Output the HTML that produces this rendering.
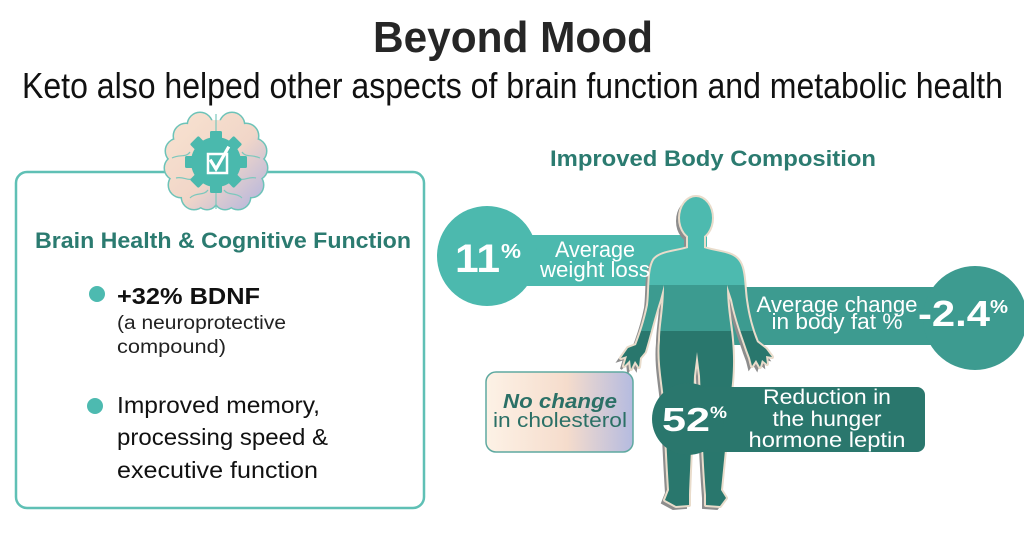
<!DOCTYPE html>
<html>
<head>
<meta charset="utf-8">
<style>
  html,body{margin:0;padding:0;background:#fff;}
  svg{display:block;}
  text{font-family:"Liberation Sans", sans-serif;}
</style>
</head>
<body>
<svg width="1024" height="554" viewBox="0 0 1024 554" xmlns="http://www.w3.org/2000/svg">
  <defs>
    <linearGradient id="brainGrad" x1="170" y1="115" x2="262" y2="208" gradientUnits="userSpaceOnUse">
      <stop offset="0" stop-color="#f8e2d0"/>
      <stop offset="0.55" stop-color="#f1d6c8"/>
      <stop offset="1" stop-color="#b3b5de"/>
    </linearGradient>
    <linearGradient id="cholGrad" x1="0" y1="0" x2="1" y2="0">
      <stop offset="0" stop-color="#fdf2e6"/>
      <stop offset="0.55" stop-color="#f5dccc"/>
      <stop offset="1" stop-color="#b5bbe0"/>
    </linearGradient>
    <linearGradient id="bodyGrad" x1="0" y1="190" x2="0" y2="510" gradientUnits="userSpaceOnUse">
      <stop offset="0" stop-color="#4dbaaf"/>
      <stop offset="0.297" stop-color="#4dbaaf"/>
      <stop offset="0.297" stop-color="#3c9b90"/>
      <stop offset="0.44" stop-color="#3c9b90"/>
      <stop offset="0.44" stop-color="#29776d"/>
      <stop offset="1" stop-color="#29776d"/>
    </linearGradient>
    <g id="fig">
      <ellipse cx="696" cy="218" rx="16" ry="21"/>
      <path d="M688 234 L688 248 C675 252 660 252 654 260 C648 270 650 290 648 305 C645 320 640 335 636 345 L628 348 L621 358 L627 356 L624 366 L630 360 L631 369 L635 361 L639 367 L640 358 L645 352 C650 335 655 315 660 300 L664 285 C664 310 660 325 660 340 C658 360 662 380 664 400 C666 430 667 460 669 490 L665 500 L676 506 L689 505 L689 495 C690 470 692 430 694 376 L697 352 L700 376 C702 430 704 470 706 495 L706 505 L720 506 L726 498 L721 490 C724 460 727 430 730 400 C733 380 734 360 732 340 C731 325 727 310 727 285 L732 300 C736 320 742 335 747 350 L750 358 L752 366 L756 360 L760 367 L762 360 L767 364 L766 356 L772 357 L766 349 L757 342 C752 330 748 315 746 300 C744 285 745 268 738 260 C732 252 716 252 704 248 L704 234 Z"/>
    </g>
  </defs>

  <!-- Title -->
  <text x="373" y="52" font-size="44" font-weight="bold" fill="#262626" textLength="280" lengthAdjust="spacingAndGlyphs">Beyond Mood</text>
  <text x="22" y="98" font-size="36" fill="#111" textLength="981" lengthAdjust="spacingAndGlyphs">Keto also helped other aspects of brain function and metabolic health</text>

  <!-- Left box -->
  <rect x="16" y="172" width="408" height="336" rx="11" ry="11" fill="#fff" stroke="#5fc0b5" stroke-width="2.5"/>

  <!-- Brain icon -->
  <g>
    <g fill="none" stroke="#6cc3b8" stroke-width="3">
      <circle cx="200" cy="125" r="12"/><circle cx="232" cy="125" r="12"/>
      <circle cx="186" cy="136" r="12"/><circle cx="246" cy="136" r="12"/>
      <circle cx="178" cy="151" r="12"/><circle cx="254" cy="151" r="12"/>
      <circle cx="177" cy="168" r="12"/><circle cx="255" cy="168" r="12"/>
      <circle cx="181" cy="185" r="12"/><circle cx="251" cy="185" r="12"/>
      <circle cx="194" cy="197" r="12"/><circle cx="238" cy="197" r="12"/>
      <circle cx="207" cy="199" r="10"/><circle cx="225" cy="199" r="10"/>
    </g>
    <g fill="url(#brainGrad)">
      <circle cx="216" cy="162" r="42"/>
      <circle cx="200" cy="125" r="12"/><circle cx="232" cy="125" r="12"/>
      <circle cx="186" cy="136" r="12"/><circle cx="246" cy="136" r="12"/>
      <circle cx="178" cy="151" r="12"/><circle cx="254" cy="151" r="12"/>
      <circle cx="177" cy="168" r="12"/><circle cx="255" cy="168" r="12"/>
      <circle cx="181" cy="185" r="12"/><circle cx="251" cy="185" r="12"/>
      <circle cx="194" cy="197" r="12"/><circle cx="238" cy="197" r="12"/>
      <circle cx="207" cy="199" r="10"/><circle cx="225" cy="199" r="10"/>
    </g>
    <g fill="none" stroke="#7cc8bd" stroke-width="1.2">
      <path d="M216 114 L216 209"/>
      <path d="M172 158 C180 154 186 158 190 152"/>
      <path d="M260 158 C252 154 246 158 242 152"/>
      <path d="M176 178 C184 176 188 182 194 178"/>
      <path d="M256 178 C248 176 244 182 238 178"/>
      <path d="M190 198 C196 192 204 196 208 190"/>
      <path d="M242 198 C236 192 228 196 224 190"/>
    </g>
    <!-- gear -->
    <g transform="translate(216 162)" fill="#4ab9ad">
      <circle r="25"/>
      <rect x="-6" y="-31" width="12" height="10" rx="1.5"/>
      <rect x="-6" y="-31" width="12" height="10" rx="1.5" transform="rotate(45)"/>
      <rect x="-6" y="-31" width="12" height="10" rx="1.5" transform="rotate(90)"/>
      <rect x="-6" y="-31" width="12" height="10" rx="1.5" transform="rotate(135)"/>
      <rect x="-6" y="-31" width="12" height="10" rx="1.5" transform="rotate(180)"/>
      <rect x="-6" y="-31" width="12" height="10" rx="1.5" transform="rotate(225)"/>
      <rect x="-6" y="-31" width="12" height="10" rx="1.5" transform="rotate(270)"/>
      <rect x="-6" y="-31" width="12" height="10" rx="1.5" transform="rotate(315)"/>
    </g>
    <rect x="208" y="154" width="19" height="19" fill="none" stroke="#fff" stroke-width="2.5"/>
    <polyline points="211,161 216,169 228,148" fill="none" stroke="#fff" stroke-width="3.2" stroke-linecap="square"/>
  </g>

  <text x="35" y="248" font-size="22" font-weight="bold" fill="#2b7b70" textLength="376" lengthAdjust="spacingAndGlyphs">Brain Health &amp; Cognitive Function</text>

  <circle cx="97" cy="294" r="8" fill="#4dbab0"/>
  <text x="117" y="304" font-size="23" font-weight="bold" fill="#111" textLength="143" lengthAdjust="spacingAndGlyphs">+32% BDNF</text>
  <text x="117" y="329" font-size="19" fill="#222" textLength="169" lengthAdjust="spacingAndGlyphs">(a neuroprotective</text>
  <text x="117" y="353" font-size="19" fill="#222" textLength="109" lengthAdjust="spacingAndGlyphs">compound)</text>

  <circle cx="95" cy="406" r="8" fill="#4dbab0"/>
  <text x="117" y="413" font-size="23" fill="#111" textLength="203" lengthAdjust="spacingAndGlyphs">Improved memory,</text>
  <text x="117" y="445" font-size="23" fill="#111" textLength="211" lengthAdjust="spacingAndGlyphs">processing speed &amp;</text>
  <text x="117" y="478" font-size="23" fill="#111" textLength="201" lengthAdjust="spacingAndGlyphs">executive function</text>

  <!-- Right section -->
  <text x="550" y="166" font-size="22" font-weight="bold" fill="#2b7b70" textLength="326" lengthAdjust="spacingAndGlyphs">Improved Body Composition</text>

  <!-- 11% bar -->
  <rect x="487" y="235" width="220" height="51" fill="#4cb9ae"/>
  <circle cx="487" cy="256" r="50" fill="#4cb9ae"/>

  <!-- -2.4% bar -->
  <rect x="700" y="287" width="275" height="58" fill="#3d9b90"/>
  <circle cx="975" cy="318" r="52" fill="#3d9b90"/>

  <!-- figure -->
  <use href="#fig" transform="translate(-3 3)" fill="#8d8d8d" stroke="#8d8d8d" stroke-width="2"/>
  <use href="#fig" fill="#e9dccb" stroke="#e9dccb" stroke-width="4" stroke-linejoin="round"/>
  <use href="#fig" fill="url(#bodyGrad)"/>

  <!-- 52% bar -->
  <rect x="688" y="387" width="237" height="65" rx="8" fill="#2a776d"/>
  <circle cx="688" cy="419" r="36" fill="#2a776d"/>

  <!-- Cholesterol box -->
  <rect x="486" y="372" width="147" height="80" rx="10" fill="url(#cholGrad)" stroke="#5fa9a0" stroke-width="1.5"/>
  <text x="560" y="408" font-size="20" font-weight="bold" font-style="italic" fill="#2b7066" text-anchor="middle" textLength="114" lengthAdjust="spacingAndGlyphs">No change</text>
  <text x="560" y="427" font-size="20" fill="#2b7066" text-anchor="middle" textLength="134" lengthAdjust="spacingAndGlyphs">in cholesterol</text>

  <!-- 11% text -->
  <text x="455" y="272" font-size="40" font-weight="bold" fill="#fff" textLength="45" lengthAdjust="spacingAndGlyphs">11</text>
  <text x="501" y="258" font-size="20" font-weight="bold" fill="#fff" textLength="20" lengthAdjust="spacingAndGlyphs">%</text>
  <text x="595" y="257" font-size="22" fill="#fff" text-anchor="middle" textLength="80" lengthAdjust="spacingAndGlyphs">Average</text>
  <text x="595" y="277" font-size="22" fill="#fff" text-anchor="middle" textLength="110" lengthAdjust="spacingAndGlyphs">weight loss</text>

  <!-- -2.4% text -->
  <text x="837" y="312" font-size="22" fill="#fff" text-anchor="middle" textLength="161" lengthAdjust="spacingAndGlyphs">Average change</text>
  <text x="837" y="329" font-size="22" fill="#fff" text-anchor="middle" textLength="131" lengthAdjust="spacingAndGlyphs">in body fat %</text>
  <text x="918" y="326" font-size="36" font-weight="bold" fill="#fff" textLength="72" lengthAdjust="spacingAndGlyphs">-2.4</text>
  <text x="990" y="313" font-size="18" font-weight="bold" fill="#fff" textLength="18" lengthAdjust="spacingAndGlyphs">%</text>

  <!-- 52% text -->
  <text x="662" y="431" font-size="33" font-weight="bold" fill="#fff" textLength="48" lengthAdjust="spacingAndGlyphs">52</text>
  <text x="710" y="418" font-size="17" font-weight="bold" fill="#fff" textLength="17" lengthAdjust="spacingAndGlyphs">%</text>
  <text x="827" y="404" font-size="21" fill="#fff" text-anchor="middle" textLength="128" lengthAdjust="spacingAndGlyphs">Reduction in</text>
  <text x="827" y="426" font-size="21" fill="#fff" text-anchor="middle" textLength="109" lengthAdjust="spacingAndGlyphs">the hunger</text>
  <text x="827" y="447" font-size="21" fill="#fff" text-anchor="middle" textLength="157" lengthAdjust="spacingAndGlyphs">hormone leptin</text>
</svg>
</body>
</html>
